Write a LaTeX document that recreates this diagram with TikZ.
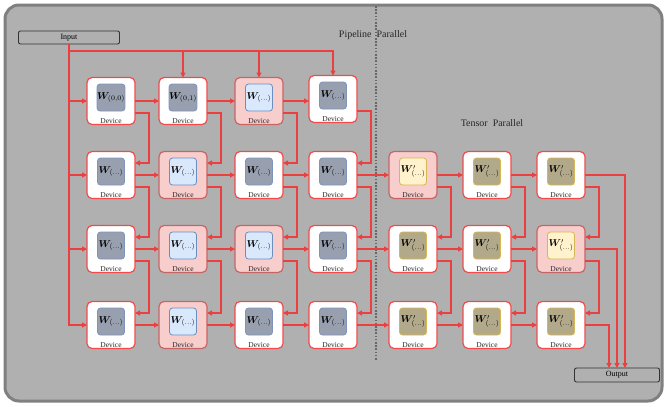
\documentclass[tikz,border=0pt]{standalone}
\usepackage{fontspec}
\setmainfont{Liberation Serif}
\usepackage{amsmath,bm}
\usetikzlibrary{arrows.meta,calc}
\definecolor{bgc}{HTML}{B0B0B0}
\definecolor{framec}{HTML}{808080}
\definecolor{devred}{HTML}{F24A4A}
\definecolor{pinkfill}{HTML}{F8CECC}
\definecolor{pinkdraw}{HTML}{C96464}
\definecolor{greyfill}{HTML}{98A0AF}
\definecolor{greydraw}{HTML}{7F93BB}
\definecolor{bluefill}{HTML}{DAE8FC}
\definecolor{bluedraw}{HTML}{6C8EBF}
\definecolor{tanfill}{HTML}{B2A98A}
\definecolor{yelfill}{HTML}{FFF2CC}
\definecolor{yeldraw}{HTML}{D6B656}
\definecolor{arrred}{HTML}{EC4040}
\definecolor{divc}{HTML}{666666}
\newcommand\mkdev[6]{%
  \node[#4] (#1) at (#2,#3) {};
  \node[#5] (#1i) at (#2,#3-3.5) {#6};
  \node[devlabel] (#1l) at (#2,#3+22) {Device};
}
\tikzset{
  frame/.style={draw=framec, fill=bgc, line width=3bp, rounded corners=14bp},
  devw/.style={draw=devred, fill=white, line width=1.2bp, rounded corners=5bp, minimum width=48bp, minimum height=47bp, inner sep=0pt, outer sep=0pt},
  devp/.style={draw=pinkdraw, fill=pinkfill, line width=1.2bp, rounded corners=5bp, minimum width=48bp, minimum height=47bp, inner sep=0pt, outer sep=0pt},
  wbox/.style={minimum width=27bp, minimum height=27bp, rounded corners=3bp, line width=0.8bp, inner sep=0pt, font=\fontsize{10}{12}\selectfont},
  wgrey/.style={wbox, draw=greydraw, fill=greyfill},
  wblue/.style={wbox, draw=bluedraw, fill=bluefill},
  wtan/.style={wbox, draw=yeldraw, fill=tanfill},
  wyel/.style={wbox, draw=yeldraw, fill=yelfill},
  devlabel/.style={anchor=base, inner sep=0pt, text=black!85, font=\fontsize{7.5}{9}\selectfont},
  iobox/.style={draw=black!80, line width=0.9bp, rounded corners=2bp, inner sep=0pt, outer sep=0pt, font=\fontsize{8}{9}\selectfont},
  arr/.style={draw=arrred, line width=1.5bp, -{Triangle[width=5bp,length=5bp]}},
  divider/.style={draw=divc, line width=1.4bp, dash pattern=on 1.6bp off 1.6bp},
  ttl/.style={inner sep=0pt, text=black!85, font=\fontsize{10}{12}\selectfont},
}
\begin{document}
\begin{tikzpicture}[x=1bp,y=-1bp]
\useasboundingbox (0,0) rectangle (666,406);
\fill[white] (0,0) rectangle (666,406);
\draw[frame] (5,5) rectangle (662,401);
% divider
\coordinate (dt) at (376,6);
\coordinate (db) at (376,360);
\draw[divider] (dt) -- (db);
% titles
\node[ttl] (pp) at (373,35) {Pipeline\ \ Parallel};
\node[ttl] (tp) at (492,123) {Tensor\ \ Parallel};
% io
\node[iobox, minimum width=101bp, minimum height=13bp] (inp) at (69,37.5) {Input};
\node[iobox, minimum width=85bp, minimum height=14bp] (outp) at (617,375) {Output};
% row 1
\mkdev{d11}{111}{101}{devw}{wgrey}{$\bm{W}_{(0,0)}$}
\mkdev{d12}{183}{101}{devw}{wgrey}{$\bm{W}_{(0,1)}$}
\mkdev{d13}{259}{101}{devp}{wblue}{$\bm{W}_{(\ldots)}$}
\mkdev{d14}{333}{99}{devw}{wgrey}{$\bm{W}_{(\ldots)}$}
% row 2
\mkdev{d21}{111}{175}{devw}{wgrey}{$\bm{W}_{(\ldots)}$}
\mkdev{d22}{183}{175}{devp}{wblue}{$\bm{W}_{(\ldots)}$}
\mkdev{d23}{259}{175}{devw}{wgrey}{$\bm{W}_{(\ldots)}$}
\mkdev{d24}{333}{175}{devw}{wgrey}{$\bm{W}_{(\ldots)}$}
\mkdev{d25}{413}{175}{devp}{wyel}{$\bm{W}'_{(\ldots)}$}
\mkdev{d26}{487}{175}{devw}{wtan}{$\bm{W}'_{(\ldots)}$}
\mkdev{d27}{561}{175}{devw}{wtan}{$\bm{W}'_{(\ldots)}$}
% row 3
\mkdev{d31}{111}{249}{devw}{wgrey}{$\bm{W}_{(\ldots)}$}
\mkdev{d32}{183}{249}{devp}{wblue}{$\bm{W}_{(\ldots)}$}
\mkdev{d33}{259}{249}{devp}{wblue}{$\bm{W}_{(\ldots)}$}
\mkdev{d34}{333}{249}{devw}{wgrey}{$\bm{W}_{(\ldots)}$}
\mkdev{d35}{413}{249}{devw}{wtan}{$\bm{W}'_{(\ldots)}$}
\mkdev{d36}{487}{249}{devw}{wtan}{$\bm{W}'_{(\ldots)}$}
\mkdev{d37}{561}{249}{devp}{wyel}{$\bm{W}'_{(\ldots)}$}
% row 4
\mkdev{d41}{111}{325}{devw}{wgrey}{$\bm{W}_{(\ldots)}$}
\mkdev{d42}{183}{325}{devp}{wblue}{$\bm{W}_{(\ldots)}$}
\mkdev{d43}{259}{325}{devw}{wgrey}{$\bm{W}_{(\ldots)}$}
\mkdev{d44}{333}{325}{devw}{wgrey}{$\bm{W}_{(\ldots)}$}
\mkdev{d45}{413}{325}{devw}{wtan}{$\bm{W}'_{(\ldots)}$}
\mkdev{d46}{487}{325}{devw}{wtan}{$\bm{W}'_{(\ldots)}$}
\mkdev{d47}{561}{325}{devw}{wtan}{$\bm{W}'_{(\ldots)}$}
% input connectors
\draw[arr] (inp.south) |- (d41.west);
\foreach \r in {1,2,3}{\draw[arr] (inp.south |- d\r1.west) -- (d\r1.west);}
\coordinate (bus) at (69,51);
\draw[arr] (bus) -| (d14.north);
\draw[arr] (bus -| d12.north) -- (d12.north);
\draw[arr] (bus -| d13.north) -- (d13.north);
% horizontal connectors
\draw[arr] (d11.east) -- (d12.west);
\draw[arr] (d12.east) -- (d13.west);
\draw[arr] (d13.east) -- (d13.east -| d14.west);
\foreach \r in {2,3,4}{
  \foreach \c/\n in {1/2,2/3,3/4,4/5,5/6,6/7}{
    \draw[arr] (d\r\c.east) -- (d\r\n.west);
  }
}
% down connectors
\foreach \c in {1,2,3,4}{
  \foreach \r/\n in {1/2,2/3,3/4}{
    \draw[arr] ([yshift=-12bp]d\r\c.east) -- ++(14,0) |- ([yshift=12bp]d\n\c.east);
  }
}
\foreach \c in {5,6,7}{
  \foreach \r/\n in {2/3,3/4}{
    \draw[arr] ([yshift=-12bp]d\r\c.east) -- ++(14,0) |- ([yshift=12bp]d\n\c.east);
  }
}
% output connectors
\draw[arr] (d27.east) -| ([xshift=8bp]outp.north);
\draw[arr] (d37.east) -| (outp.north);
\draw[arr] (d47.east) -| ([xshift=-8bp]outp.north);
\end{tikzpicture}
\end{document}
